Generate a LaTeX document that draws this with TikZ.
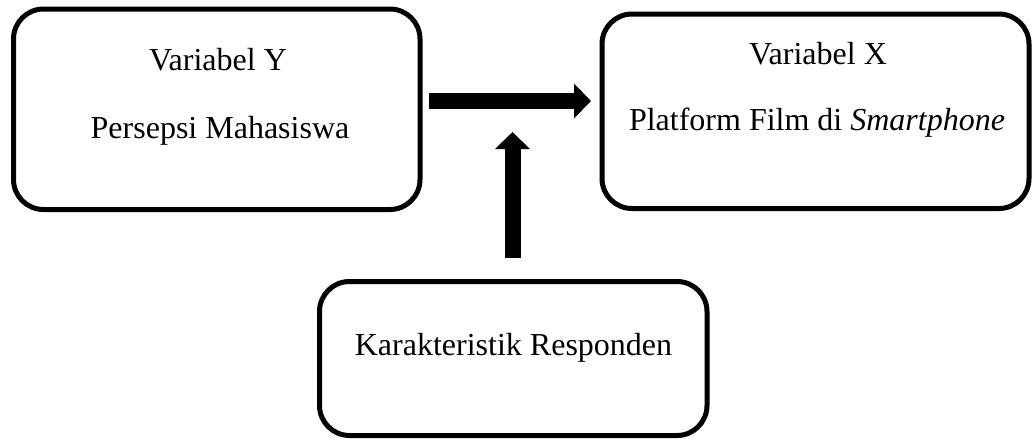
\documentclass[tikz,border=0pt]{standalone}
\usepackage{fontspec}
\setmainfont{Liberation Serif}
\usetikzlibrary{arrows.meta}
\begin{document}
\begin{tikzpicture}[x=1pt,y=-1pt,
  box/.style={draw=black,line width=5pt,rounded corners=30pt,inner sep=0pt,outer sep=0pt},
  txt/.style={font=\fontsize{32pt}{36pt}\selectfont,anchor=base,inner sep=0pt},
  blockarrow/.style={line width=16pt,-{Triangle[width=34pt,length=17pt]}}]
\useasboundingbox (0,0) rectangle (1033,439);
\node[box,minimum width=406.5pt,minimum height=200.5pt] (L) at (216.75,109.25) {};
\node[box,minimum width=427pt,minimum height=194.5pt] (R) at (815.5,111.25) {};
\node[box,minimum width=387.5pt,minimum height=154pt] (B) at (513.25,358.5) {};
\node[txt] (ly) at (218,70) {Variabel Y};
\node[txt] (lp) at (220,138) {Persepsi Mahasiswa};
\node[txt] (rx) at (818,64) {Variabel X};
\node[txt] (rp) at (817,130) {Platform Film di \textit{Smartphone}};
\node[txt] (bk) at (513.5,355) {Karakteristik Responden};
\coordinate (hs) at (429,101);
\coordinate (he) at (591,101);
\coordinate (vs) at (512.5,258);
\coordinate (ve) at (512.5,132);
\draw[blockarrow] (hs) -- (he);
\draw[blockarrow] (vs) -- (ve);
\end{tikzpicture}
\end{document}
